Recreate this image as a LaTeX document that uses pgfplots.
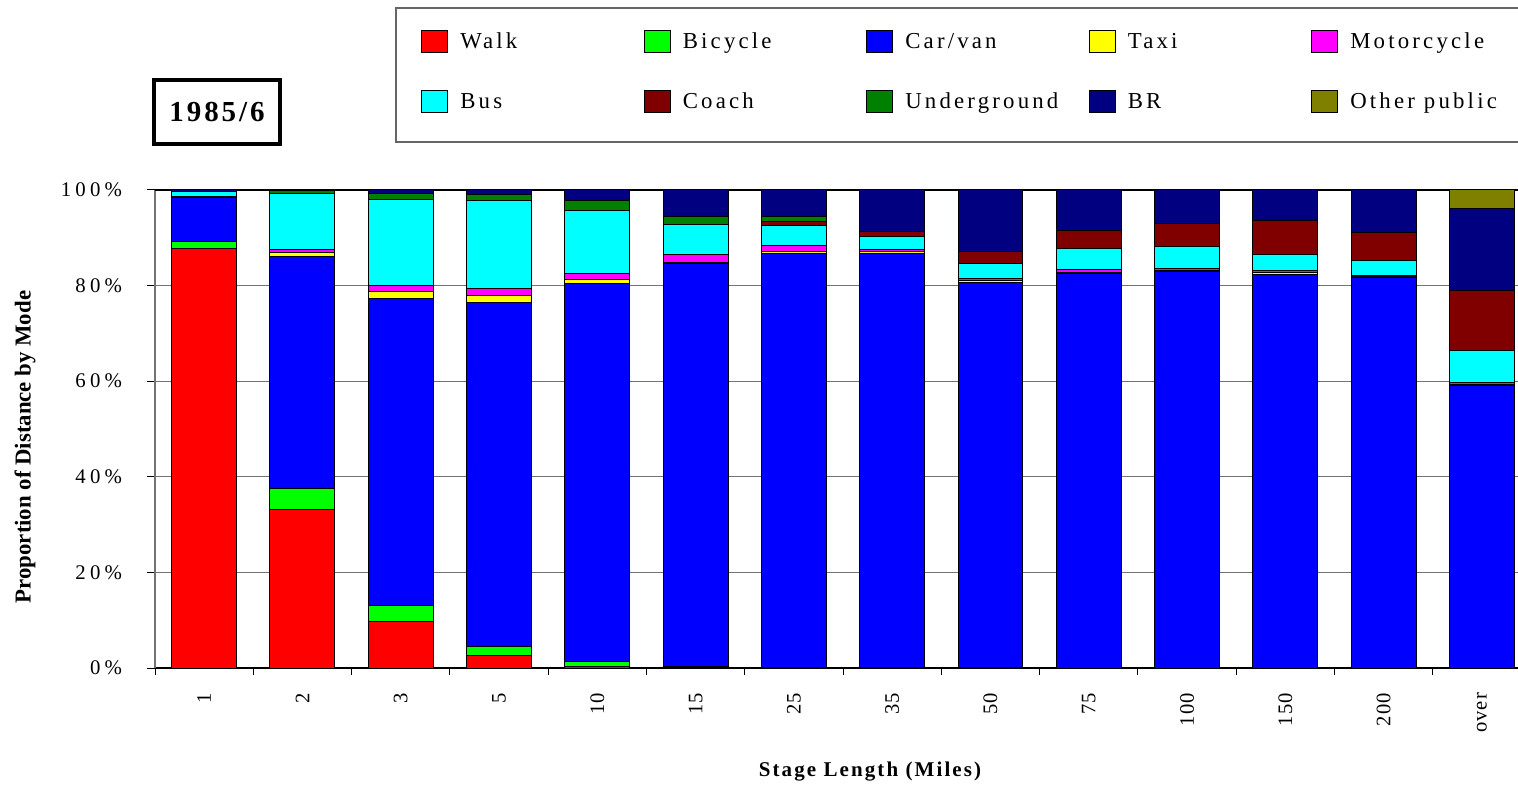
\documentclass[border=0pt]{standalone}
\usepackage{fontspec}
\setmainfont{Liberation Serif}
\newfontfamily\spcy[LetterSpace=20]{Liberation Serif}
\newfontfamily\spcx[LetterSpace=5]{Liberation Serif}
\newfontfamily\spcl[LetterSpace=14]{Liberation Serif}
\newfontfamily\spcb[LetterSpace=10]{Liberation Serif}
\usepackage{pgfplots}
\pgfplotsset{compat=1.18}
\usepackage{pgfplotstable}

\definecolor{cwalk}{RGB}{255,0,0}
\definecolor{cbike}{RGB}{0,255,0}
\definecolor{ccar}{RGB}{0,0,255}
\definecolor{ctaxi}{RGB}{255,255,0}
\definecolor{cmoto}{RGB}{255,0,255}
\definecolor{cbus}{RGB}{0,255,255}
\definecolor{ccoach}{RGB}{128,0,0}
\definecolor{cunder}{RGB}{0,128,0}
\definecolor{cbr}{RGB}{0,0,128}
\definecolor{cother}{RGB}{128,128,0}

\pgfplotstableread{
x  walk bike car  taxi moto bus  coach under br   other
0  87.7 1.6  9.1  0.1  0.1  1.0  0.0   0.0   0.4  0.0
1  33.1 4.4  48.5 1.0  0.6  11.7 0.0   0.5   0.2  0.0
2  9.8  3.2  64.3 1.5  1.2  18.1 0.0   1.2   0.7  0.0
3  2.6  1.9  72.0 1.4  1.5  18.3 0.0   1.4   0.9  0.0
4  0.4  0.9  79.2 0.8  1.3  13.2 0.0   2.0   2.2  0.0
5  0.1  0.2  84.4 0.1  1.7  6.3  0.0   1.7   5.5  0.0
6  0.1  0.1  86.6 0.4  1.2  4.1  0.9   1.0   5.6  0.0
7  0.1  0.1  86.6 0.3  0.5  2.6  1.2   0.0   8.6  0.0
8  0.0  0.1  80.6 0.4  0.4  3.2  2.5   0.0   12.8 0.0
9  0.0  0.0  82.6 0.2  0.6  4.4  3.7   0.0   8.5  0.0
10 0.0  0.0  83.0 0.2  0.4  4.5  4.9   0.0   7.0  0.0
11 0.0  0.0  82.4 0.3  0.4  3.5  7.1   0.0   6.3  0.0
12 0.0  0.0  81.7 0.1  0.4  3.0  5.9   0.0   8.9  0.0
13 0.0  0.0  59.0 0.3  0.4  6.8  12.5  0.0   17.1 3.9
}\datatable

\pgfplotsset{
  mylegend/.style={legend image code/.code={%
    \draw[##1,draw=black,line width=0.4pt] (0pt,-5.5pt) rectangle (13pt,5.5pt);
    \path (19pt,0pt);}},
  barsty/.style={fill=#1, draw=black, line width=0.5pt, mylegend},
}

\begin{document}
\begin{tikzpicture}
\useasboundingbox (0,0) rectangle (759pt,393.5pt);
\begin{axis}[
  at={(77.5pt,59.5pt)}, anchor=south west,
  scale only axis, width=688pt, height=239pt,
  ybar stacked, bar width=0.66,
  xmin=-0.5, xmax=13.5, ymin=0, ymax=100,
  axis x line*=bottom, axis y line*=left,
  y axis line style={draw=gray!90!black, line width=0.7pt},
  x axis line style={draw=black, line width=0.6pt},
  tick align=outside, major tick length=4pt, minor tick length=3.5pt,
  tick style={black, line width=0.5pt},
  xtick={0,...,13},
  xticklabels={1,2,3,5,10,15,25,35,50,75,100,150,200,over},
  major x tick style={draw=none},
  minor xtick={-0.5,0.5,...,13.5},
  minor x tick style={draw=black, line width=0.5pt},
  xticklabel style={yshift=-5pt, rotate=90, anchor=east, font=\spcx\fontsize{10.3}{12}\selectfont},
  ytick={0,20,...,100},
  yticklabels={0\%,20\%,40\%,60\%,80\%,100\%},
  yticklabel style={xshift=-9pt, font=\spcy\fontsize{10.4}{12}\selectfont},
  ymajorgrids,
  major grid style={draw=gray!90!black, line width=0.6pt},
  extra y ticks={100}, extra y tick labels={},
  extra y tick style={major grid style={draw=black, line width=0.6pt}},
  ylabel={Proportion of Distance by Mode},
  ylabel style={at={(axis description cs:-0.0945,0.4623)}, anchor=center, font=\bfseries\fontsize{11.4}{13}\selectfont},
  xlabel={Stage Length (Miles)},
  xlabel style={at={(axis description cs:0.5196,-0.2176)}, anchor=center, font=\spcb\bfseries\fontsize{10.5}{12}\selectfont},
  legend columns=5,
  legend style={at={(axis description cs:0.1933,1.3347)}, anchor=north west,
    draw=none, fill=none, inner sep=0pt, column sep=0pt, row sep=18.5pt,
    cells={anchor=center},
    nodes={inner sep=0pt, text width=91.8pt, align=left, text height=9pt, text depth=2pt,
      font=\spcl\fontsize{11.4}{13}\selectfont}},
]
\addplot[barsty=cwalk]  table[x=x,y=walk]  {\datatable}; \addlegendentry{Walk}
\addplot[barsty=cbike]  table[x=x,y=bike]  {\datatable}; \addlegendentry{Bicycle}
\addplot[barsty=ccar]   table[x=x,y=car]   {\datatable}; \addlegendentry{Car/van}
\addplot[barsty=ctaxi]  table[x=x,y=taxi]  {\datatable}; \addlegendentry{Taxi}
\addplot[barsty=cmoto]  table[x=x,y=moto]  {\datatable}; \addlegendentry{Motorcycle}
\addplot[barsty=cbus]   table[x=x,y=bus]   {\datatable}; \addlegendentry{Bus}
\addplot[barsty=ccoach] table[x=x,y=coach] {\datatable}; \addlegendentry{Coach}
\addplot[barsty=cunder] table[x=x,y=under] {\datatable}; \addlegendentry{Underground}
\addplot[barsty=cbr]    table[x=x,y=br]    {\datatable}; \addlegendentry{BR}
\addplot[barsty=cother] table[x=x,y=other] {\datatable}; \addlegendentry{Other\hspace{4.5pt}public}
\end{axis}
\draw[draw=gray!80!black, line width=0.6pt] (198pt,322.5pt) rectangle (790pt,389.5pt);
\node[draw=black, line width=2.2pt, minimum width=62.75pt, minimum height=31.75pt,
  inner sep=0pt, font=\spcb\bfseries\fontsize{14.5}{16}\selectfont] at (108.5pt,337.5pt) {1985/6};
\end{tikzpicture}
\end{document}
